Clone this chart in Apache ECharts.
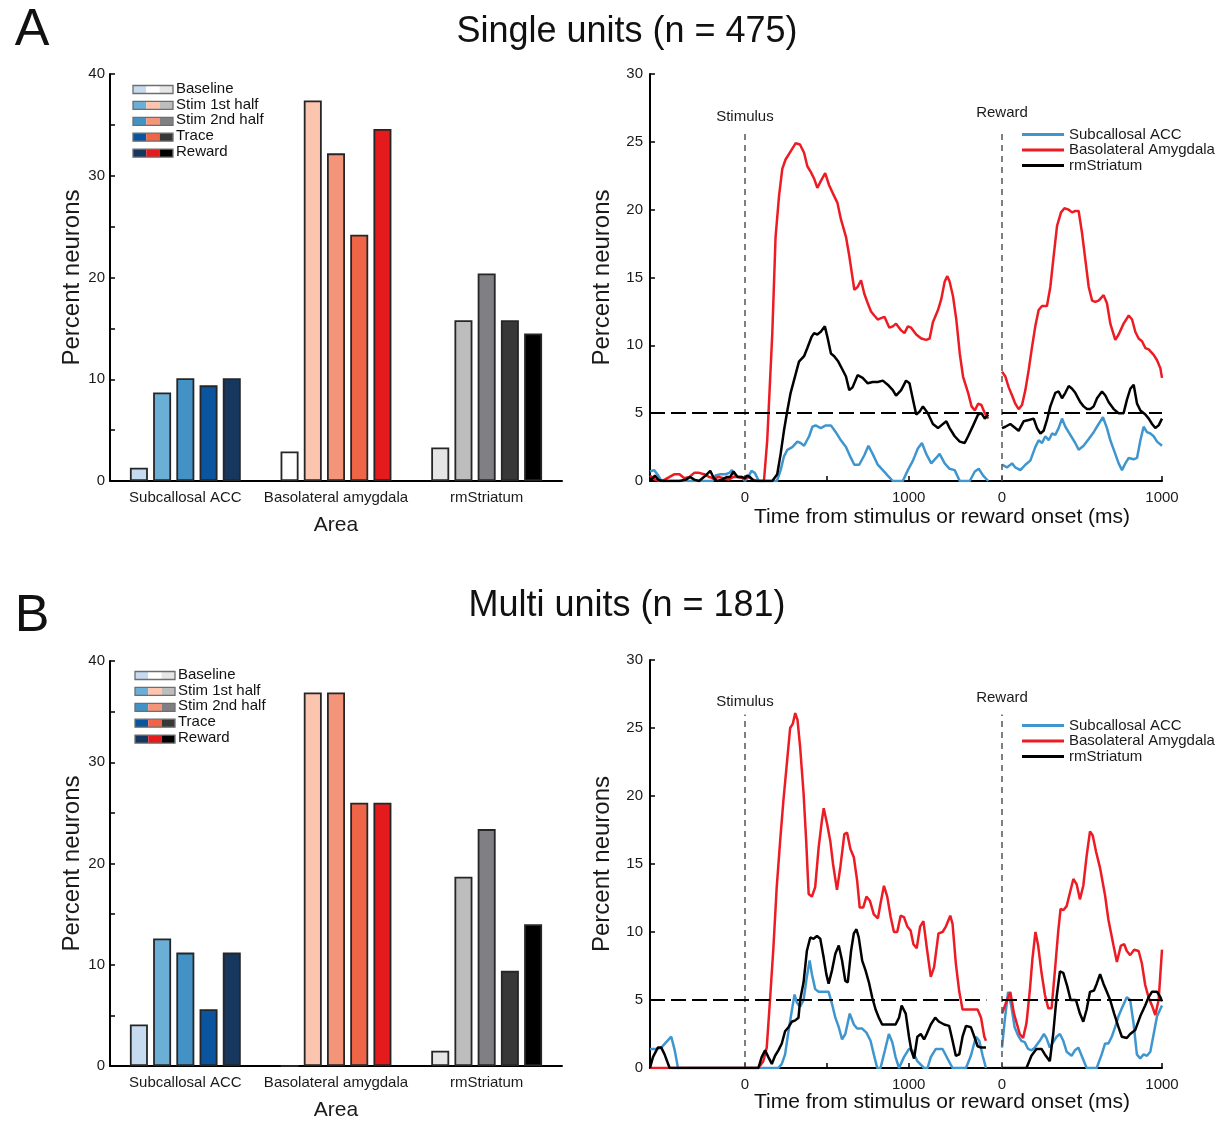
<!DOCTYPE html>
<html><head><meta charset="utf-8">
<script src="https://cdn.jsdelivr.net/npm/echarts@6/dist/echarts.min.js"></script>
<style>html,body{margin:0;padding:0;background:#fff}#c{width:1223px;height:1122px}</style>
</head><body><div id="c"></div>
<script>
// ---------- categories / labels ----------
const areas = ['Subcallosal ACC', 'Basolateral amygdala', 'rmStriatum'];
const phases = ['Baseline', 'Stim 1st half', 'Stim 2nd half', 'Trace', 'Reward'];
const lineNames = ['Subcallosal ACC', 'Basolateral Amygdala', 'rmStriatum'];
const stimTicks = [0, 500, 1000];
const stimLabels = [0, 1000];
const rewTicks = [0, 1000];

// ---------- bar values (percent neurons), order = areas ----------
const singleBaseline = [1.3, 2.9, 3.3];
const singleStim1 = [8.7, 37.4, 15.8];
const singleStim2 = [10.1, 32.2, 20.4];
const singleTrace = [9.4, 24.2, 15.8];
const singleReward = [10.1, 34.6, 14.5];
const multiBaseline = [4.1, 0, 1.5];
const multiStim1 = [12.6, 36.9, 18.7];
const multiStim2 = [11.2, 36.9, 23.4];
const multiTrace = [5.6, 26.0, 9.4];
const multiReward = [11.2, 26.0, 14.0];

// ---------- colours per phase ----------
const accColors = ['#c6dbef', '#6baed6', '#4292c6', '#0b559f', '#17375e'];
const blaColors = ['#ffffff', '#fcc5b0', '#f4957a', '#ef6548', '#e41a1c'];
const strColors = ['#e6e6e6', '#bdbdbd', '#808084', '#383838', '#000000'];
const lineColors = ['#3f96cf', '#ed1c24', '#000000'];

// ---------- time courses [ms, percent] ----------
const singleStimACC = [[-580,0.7],[-555,0.8],[-535,0.5],[-510,0],[-200,0],[-180,0.4],[-150,0.5],[-120,0.5],[-95,0.6],[-80,0.8],[-60,0.4],[-40,0.3],[-20,0.3],[0,0],[20,0.3],[40,0.75],[60,0.6],[85,0],[195,0],[218,0.8],[238,1.8],[259,2.3],[289,2.5],[320,2.9],[340,2.8],[361,2.6],[392,3.3],[412,4.0],[432,4.1],[463,3.9],[494,4.1],[525,4.1],[555,3.6],[586,3.0],[617,2.5],[647,1.7],[668,1.2],[698,1.2],[729,1.9],[754,2.6],[780,2.0],[811,1.2],[842,0.8],[872,0.4],[903,0],[964,0],[995,0.8],[1026,1.5],[1056,2.4],[1081,2.8],[1107,2.0],[1138,1.3],[1168,1.7],[1189,2.0],[1220,1.3],[1250,0.9],[1281,0.8],[1312,0],[1373,0],[1404,0.7],[1428,0.9],[1455,0.4],[1486,0]];
const singleStimBLA = [[-580,0.4],[-550,0.1],[-520,0],[-490,0.1],[-460,0.3],[-430,0.5],[-400,0.5],[-370,0.2],[-340,0.3],[-310,0.6],[-280,0.6],[-250,0.5],[-220,0.3],[-190,0.2],[-160,0.3],[-130,0.2],[-100,0.1],[-70,0.3],[-40,0.3],[-10,0.2],[20,0.3],[50,0.1],[80,0],[116,0],[136,3.0],[167,10.9],[187,18.0],[208,21.0],[228,23.0],[248,23.7],[279,24.3],[310,24.9],[336,24.8],[361,24.2],[381,23.2],[401,22.8],[422,22.3],[442,21.6],[463,22.1],[490,22.7],[514,21.8],[545,21.0],[565,20.5],[586,19.3],[617,18.0],[637,16.6],[668,14.1],[688,14.3],[709,14.8],[729,13.8],[750,13.1],[770,12.5],[790,12.2],[811,11.9],[831,12.0],[852,12.1],[882,11.3],[903,11.4],[923,11.6],[954,11.1],[974,10.9],[995,11.4],[1015,11.3],[1046,10.8],[1077,10.5],[1107,10.4],[1128,10.5],[1148,11.7],[1179,12.6],[1199,13.4],[1220,14.7],[1236,15.1],[1250,14.7],[1271,13.6],[1291,11.9],[1312,9.4],[1332,7.7],[1363,6.5],[1384,5.5],[1404,5.2],[1424,5.7],[1444,5.6],[1465,5.0],[1486,4.6]];
const singleStimStr = [[-580,0],[-565,0.2],[-550,0.4],[-530,0.1],[-510,0],[-400,0],[-360,0.1],[-335,0.3],[-310,0.1],[-280,0],[-240,0.4],[-212,0.75],[-190,0.2],[-170,0],[-140,0.1],[-110,0.3],[-90,0.3],[-70,0.7],[-45,0.3],[-20,0.3],[0,0.2],[13,0.4],[30,0.3],[54,0],[167,0],[197,0.5],[218,2.0],[238,3.7],[259,5.2],[279,6.5],[310,7.9],[330,8.8],[361,9.2],[381,9.8],[406,10.6],[422,10.9],[442,10.8],[463,11.0],[488,11.4],[504,10.6],[525,9.4],[545,9.2],[570,8.8],[596,8.2],[617,7.7],[637,6.7],[657,6.9],[688,7.8],[719,7.6],[750,7.2],[780,7.3],[811,7.3],[842,7.4],[872,7.1],[903,6.7],[923,6.3],[954,6.7],[984,7.4],[1005,7.2],[1026,6.0],[1046,4.9],[1066,5.1],[1087,5.5],[1117,5.0],[1148,4.2],[1179,3.9],[1199,4.1],[1230,4.4],[1250,3.9],[1281,3.3],[1312,2.9],[1342,2.8],[1363,3.3],[1394,4.1],[1424,4.9],[1444,5.0],[1465,4.6],[1486,4.9]];
const singleRewACC = [[0,1.2],[31,1.0],[63,1.3],[83,1.0],[115,0.8],[146,1.2],[177,1.5],[208,2.5],[229,3.0],[250,2.8],[271,3.3],[292,3.0],[313,3.5],[333,3.4],[354,3.9],[375,4.6],[396,4.0],[427,3.4],[458,2.8],[479,2.3],[510,2.6],[542,3.1],[573,3.6],[604,4.2],[631,4.7],[656,3.9],[677,3.0],[708,2.0],[729,1.3],[750,0.8],[771,1.3],[792,1.7],[823,1.6],[844,1.7],[865,3.0],[885,4.0],[906,3.6],[927,3.5],[948,3.3],[969,2.9],[1000,2.6]];
const singleRewBLA = [[0,8.05],[21,7.7],[42,6.9],[63,6.3],[83,5.7],[104,5.3],[125,5.6],[146,6.7],[167,8.2],[188,9.9],[208,11.4],[229,12.6],[250,12.9],[281,12.9],[302,14.3],[323,16.6],[344,18.8],[369,19.8],[390,20.1],[417,20.0],[438,19.8],[458,19.9],[479,19.9],[500,18.3],[521,16.3],[542,14.3],[563,13.3],[583,13.2],[604,13.3],[635,13.7],[656,13.1],[677,11.6],[708,10.4],[729,10.8],[760,11.6],[792,12.2],[813,11.9],[833,11.0],[854,10.5],[875,10.3],[896,9.8],[917,9.7],[948,9.3],[969,8.9],[990,8.3],[1000,7.6]];
const singleRewStr = [[0,3.9],[21,4.0],[52,4.2],[83,3.9],[104,3.7],[135,4.4],[167,4.5],[198,4.6],[219,3.9],[240,3.5],[260,3.7],[281,4.5],[302,5.5],[333,6.5],[354,6.6],[375,6.1],[396,6.5],[417,7.0],[438,6.8],[458,6.5],[490,5.8],[510,5.5],[531,5.3],[552,5.3],[573,5.5],[594,6.1],[625,6.6],[646,6.3],[667,5.8],[698,5.3],[729,5.0],[760,5.0],[781,6.0],[802,6.8],[823,7.1],[844,5.7],[865,5.2],[896,4.9],[917,4.6],[938,4.2],[958,3.9],[979,4.1],[1000,4.6]];

const multiStimACC = [[-580,1.4],[-542,1.4],[-511,1.5],[-481,1.9],[-450,2.3],[-429,1.3],[-409,0],[204,0],[225,0.3],[245,1.0],[266,2.7],[286,4.2],[303,5.4],[317,4.8],[337,4.5],[358,5.0],[378,6.7],[395,7.9],[409,6.9],[429,5.8],[450,5.6],[481,5.6],[511,5.6],[532,4.7],[552,3.7],[573,3.0],[593,2.1],[613,2.5],[640,4.0],[665,3.2],[685,2.9],[716,2.9],[742,2.6],[767,2.0],[787,1.0],[808,0],[828,0],[855,1.3],[879,2.5],[900,1.9],[920,0.8],[941,0],[971,0.8],[1002,1.4],[1022,1.3],[1053,0.5],[1094,0],[1115,0],[1135,0.8],[1166,1.4],[1207,1.4],[1237,0.7],[1268,0],[1350,0],[1380,0.9],[1411,2.3],[1431,2.0],[1452,0.9],[1472,0]];
const multiStimBLA = [[-580,0],[82,0],[112,0.5],[133,1.5],[153,5.0],[174,8.9],[194,13.3],[215,16.7],[235,19.7],[256,22.4],[276,25.0],[292,25.3],[307,26.1],[321,25.6],[337,23.6],[358,20.2],[374,16.7],[389,12.8],[409,12.6],[429,13.3],[450,16.2],[470,18.2],[481,19.1],[501,18.0],[521,16.7],[538,15.0],[562,13.1],[583,14.8],[607,17.2],[624,17.3],[644,16.1],[665,15.5],[685,13.8],[701,11.8],[722,11.8],[742,12.6],[763,12.3],[787,11.3],[812,11.0],[828,12.1],[849,13.4],[869,12.6],[890,11.1],[910,10.0],[930,10.0],[951,11.2],[971,11.1],[992,10.4],[1012,10.1],[1029,9.1],[1049,8.8],[1070,10.4],[1090,10.8],[1110,8.9],[1135,6.7],[1155,7.4],[1182,9.9],[1207,10.0],[1227,10.4],[1254,11.2],[1268,10.6],[1288,7.7],[1309,5.6],[1329,4.3],[1350,4.3],[1380,4.3],[1421,4.3],[1442,3.7],[1462,2.3],[1472,2.0]];
const multiStimStr = [[-580,0],[-562,0.8],[-532,1.5],[-511,1.5],[-491,1.0],[-460,0],[82,0],[102,0.8],[123,1.3],[143,0.8],[164,0.3],[184,0.9],[204,1.3],[225,1.8],[245,2.7],[266,3.0],[286,3.4],[307,3.5],[327,3.7],[337,5.0],[358,6.3],[378,8.6],[399,9.6],[419,9.5],[440,9.7],[460,9.5],[481,8.1],[497,6.9],[511,6.2],[532,7.2],[552,8.4],[573,9.0],[593,7.9],[613,6.4],[628,6.3],[648,8.6],[665,9.9],[681,10.2],[695,9.6],[716,7.9],[736,7.2],[757,6.3],[777,5.2],[798,4.3],[818,3.7],[838,3.2],[879,3.2],[920,3.2],[941,3.7],[957,4.6],[982,4.0],[1002,2.3],[1016,1.3],[1033,0.7],[1053,2.3],[1074,2.5],[1094,2.1],[1110,2.5],[1135,3.2],[1162,3.7],[1186,3.4],[1217,3.2],[1247,3.1],[1268,2.0],[1288,0.9],[1309,1.0],[1329,2.3],[1350,3.1],[1380,3.0],[1401,2.3],[1421,1.6],[1442,1.5],[1472,1.5]];
const multiRewACC = [[0,1.5],[17,3.5],[38,5.6],[59,4.5],[79,3.0],[100,2.4],[121,2.0],[142,1.9],[163,1.4],[184,1.3],[205,1.5],[236,2.0],[262,2.5],[278,2.2],[299,1.5],[320,1.9],[341,2.3],[362,2.5],[383,2.0],[404,1.2],[435,0.9],[456,1.3],[477,1.5],[498,0.9],[519,0.3],[529,0],[592,0],[623,1.0],[644,1.8],[665,1.8],[686,2.3],[707,3.0],[728,3.8],[749,4.4],[780,5.2],[801,5.0],[822,3.3],[843,1.0],[864,0.7],[885,1.0],[906,0.9],[927,1.2],[948,2.5],[969,3.8],[1000,4.6]];
const multiRewBLA = [[0,4.0],[25,4.8],[52,5.6],[75,4.0],[111,2.5],[132,2.2],[153,3.3],[174,5.7],[190,8.0],[209,10.0],[226,9.0],[247,7.0],[268,5.4],[289,4.4],[310,4.4],[331,7.2],[351,10.0],[366,11.7],[383,11.6],[404,11.9],[425,12.9],[446,13.9],[467,13.5],[487,12.4],[508,13.4],[529,15.6],[550,17.4],[567,17.1],[588,15.9],[613,14.7],[644,12.7],[665,10.9],[697,9.0],[718,7.8],[743,9.0],[764,9.1],[780,8.6],[801,8.3],[826,8.7],[854,8.6],[874,7.7],[895,6.1],[916,5.2],[937,4.6],[958,3.9],[979,5.0],[1000,8.7]];
const multiRewStr = [[0,0],[153,0],[184,0.9],[215,1.4],[247,1.4],[268,1.0],[299,0.5],[320,2.5],[341,5.2],[362,7.1],[383,7.0],[408,6.0],[429,5.0],[462,5.0],[487,4.0],[508,3.4],[529,4.3],[550,5.6],[575,5.7],[592,6.2],[613,6.9],[634,6.2],[655,5.6],[676,5.0],[701,4.0],[728,3.0],[749,2.3],[780,2.2],[801,2.5],[833,2.8],[864,3.8],[895,4.6],[916,5.2],[937,5.6],[969,5.6],[990,5.2],[1000,4.9]];

// ---------- build ----------
const FONT = '"Liberation Sans", Arial, Helvetica, sans-serif';
const TXT = '#1a1a1a';
const areaColors = [accColors, blaColors, strColors];
const chart = echarts.init(document.getElementById('c'), null, {renderer: 'canvas'});

const axisLine = {show: true, onZero: false, lineStyle: {color: '#000', width: 2}};
const axisTick = {show: true, inside: true, length: 5, lineStyle: {color: '#000', width: 1.5}};
const axisLabel = {color: TXT, fontSize: 15, fontFamily: FONT};
const plain = v => String(v);

const grids = [
  {left: 110, top: 74, width: 452, height: 407},
  {left: 650, top: 74, width: 352, height: 407},
  {left: 1002, top: 74, width: 160, height: 407},
  {left: 110, top: 661, width: 452, height: 408},
  {left: 650, top: 660, width: 352, height: 408},
  {left: 1002, top: 660, width: 160, height: 408}
];

const xAxis = [], yAxis = [];
function addBarAxes(g) {
  xAxis[g] = {gridIndex: g, type: 'category', data: areas, axisLine, axisTick: {show: false},
    axisLabel: Object.assign({}, axisLabel, {margin: 9, interval: 0}),
    name: 'Area', nameLocation: 'middle', nameGap: 34,
    nameTextStyle: {color: TXT, fontSize: 21, fontFamily: FONT}};
  yAxis[g] = {gridIndex: g, type: 'value', min: 0, max: 40, interval: 5, axisLine, axisTick,
    axisLabel: Object.assign({}, axisLabel, {margin: 5, formatter: v => (v % 10 === 0 ? String(v) : '')}),
    splitLine: {show: false},
    name: 'Percent neurons', nameLocation: 'middle', nameGap: 24,
    nameTextStyle: {color: TXT, fontSize: 24, fontFamily: FONT}};
}
function addLineAxes(gStim, gRew) {
  xAxis[gStim] = {gridIndex: gStim, type: 'value', min: -580, max: 1570, axisLine,
    axisTick: Object.assign({}, axisTick, {customValues: stimTicks}),
    axisLabel: Object.assign({}, axisLabel, {margin: 9, customValues: stimLabels, formatter: plain}),
    splitLine: {show: false}};
  xAxis[gRew] = {gridIndex: gRew, type: 'value', min: 0, max: 1000, axisLine,
    axisTick: Object.assign({}, axisTick, {customValues: rewTicks}),
    axisLabel: Object.assign({}, axisLabel, {margin: 9, customValues: rewTicks, formatter: plain}),
    splitLine: {show: false}};
  yAxis[gStim] = {gridIndex: gStim, type: 'value', min: 0, max: 30, interval: 5, axisLine, axisTick,
    axisLabel: Object.assign({}, axisLabel, {margin: 7}), splitLine: {show: false},
    name: 'Percent neurons', nameLocation: 'middle', nameGap: 36,
    nameTextStyle: {color: TXT, fontSize: 24, fontFamily: FONT}};
  yAxis[gRew] = {gridIndex: gRew, type: 'value', min: 0, max: 30, show: false, splitLine: {show: false}};
}
addBarAxes(0);
addLineAxes(1, 2);
addBarAxes(3);
addLineAxes(4, 5);

const series = [];
function addBars(g, arrays) {
  arrays.forEach((arr, i) => {
    series.push({
      type: 'bar', name: phases[i], xAxisIndex: g, yAxisIndex: g,
      barWidth: 18, barGap: '29%',
      data: arr.map((v, j) => ({value: v, itemStyle: {color: areaColors[j][i]}})),
      itemStyle: {borderColor: '#262626', borderWidth: 1.8},
      emphasis: {disabled: true}
    });
  });
}
addBars(0, [singleBaseline, singleStim1, singleStim2, singleTrace, singleReward]);
addBars(3, [multiBaseline, multiStim1, multiStim2, multiTrace, multiReward]);

function markFor(label, xMin, xMax, yTop, dist) {
  return {
    silent: true, symbol: ['none', 'none'], animation: false,
    data: [
      [{coord: [0, 0], lineStyle: {color: '#555', width: 1.5, type: [6, 5]},
        label: {show: true, position: 'end', formatter: label, color: TXT, fontSize: 15, fontFamily: FONT, distance: dist}},
       {coord: [0, yTop]}],
      [{coord: [xMin, 5], lineStyle: {color: '#000', width: 2.2, type: [15, 6]}, label: {show: false}},
       {coord: [xMax, 5]}]
    ]
  };
}
function addLines(g, sets, label, xMin, xMax, yTop, dist) {
  sets.forEach((d, i) => {
    const s = {type: 'line', name: lineNames[i], xAxisIndex: g, yAxisIndex: g, data: d,
      showSymbol: false, symbol: 'none', lineStyle: {color: lineColors[i], width: 2.5},
      itemStyle: {color: lineColors[i]}, emphasis: {disabled: true}, z: 3 + i};
    if (i === 0) s.markLine = markFor(label, xMin, xMax, yTop, dist);
    series.push(s);
  });
}
addLines(1, [singleStimACC, singleStimBLA, singleStimStr], 'Stimulus', -580, 1490, 25.9, 5);
addLines(2, [singleRewACC, singleRewBLA, singleRewStr], 'Reward', 0, 1000, 25.9, 9);
addLines(4, [multiStimACC, multiStimBLA, multiStimStr], 'Stimulus', -580, 1475, 26.0, 5);
addLines(5, [multiRewACC, multiRewBLA, multiRewStr], 'Reward', 0, 1000, 26.0, 9);

const legendCommon = {orient: 'vertical', data: lineNames, icon: 'rect', itemWidth: 42, itemHeight: 3,
  itemGap: 0.5, selectedMode: false, padding: 0,
  textStyle: {color: TXT, fontSize: 15, lineHeight: 15, fontFamily: FONT}};
const legend = [
  Object.assign({left: 1022, top: 127}, legendCommon),
  Object.assign({left: 1022, top: 718}, legendCommon)
];

const graphic = [];
function txt(x, y, text, size, align) {
  graphic.push({type: 'text', x, y, silent: true,
    style: {text, fill: '#111', fontSize: size, fontFamily: FONT, align: align || 'center', verticalAlign: 'middle'}});
}
txt(32, 31, 'A', 52);
txt(32, 617, 'B', 52);
txt(627, 32, 'Single units (n = 475)', 36);
txt(627, 606, 'Multi units (n = 181)', 36);
txt(942, 517, 'Time from stimulus or reward onset (ms)', 21);
txt(942, 1102, 'Time from stimulus or reward onset (ms)', 21);

function barLegend(x0, y0, tx) {
  phases.forEach((p, i) => {
    const cy = y0 + i * 15.9;
    [accColors, blaColors, strColors].forEach((cols, k) => {
      graphic.push({type: 'rect', silent: true, shape: {x: x0 + k * 13.3, y: cy - 4, width: 13.3, height: 8},
        style: {fill: cols[i], stroke: null}});
    });
    graphic.push({type: 'rect', silent: true, shape: {x: x0, y: cy - 4, width: 40, height: 8},
      style: {fill: null, stroke: '#6e6e6e', lineWidth: 1.3}});
    graphic.push({type: 'text', x: tx, y: cy - 1, silent: true,
      style: {text: p, fill: '#111', fontSize: 15, fontFamily: FONT, align: 'left', verticalAlign: 'middle'}});
  });
}
barLegend(133, 89.5, 176);
barLegend(135, 675.5, 178);

chart.setOption({
  backgroundColor: '#fff', animation: false,
  grid: grids, xAxis, yAxis, series, legend, graphic
});
</script></body></html>
